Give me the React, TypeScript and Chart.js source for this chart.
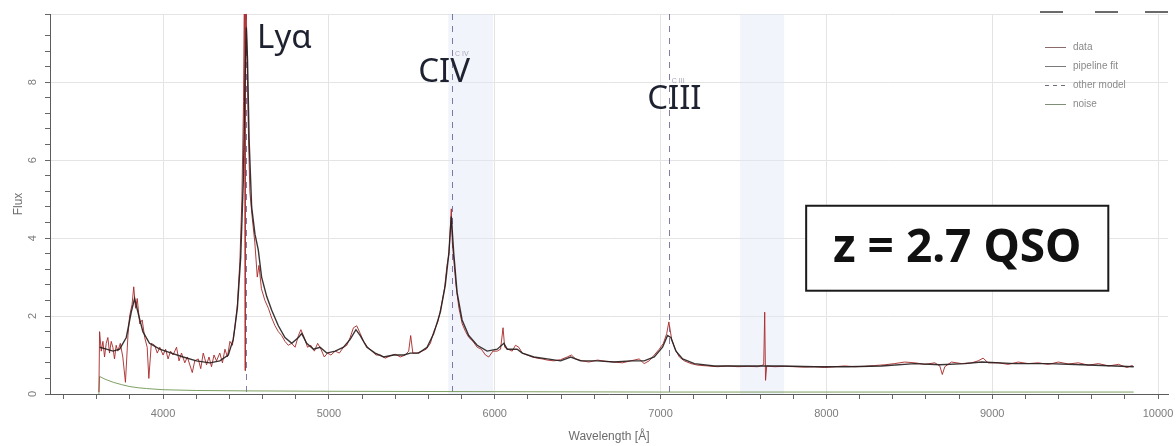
import { useEffect, useRef } from 'react';
import { Chart, registerables } from 'chart.js';

Chart.register(...registerables);

// Observed spectrum (wavelength in Å, flux)
const DATA_WAVELENGTH = [
  3613, 3617, 3627, 3637, 3647, 3657, 3667, 3677, 3687, 3697, 3707, 3717, 3727, 3742, 3757, 3773,
  3788, 3798, 3813, 3823, 3834, 3844, 3859, 3874, 3889, 3904, 3914, 3929, 3949, 3965, 3980, 4000,
  4015, 4030, 4045, 4060, 4081, 4096, 4111, 4131, 4146, 4176, 4191, 4212, 4227, 4242, 4262, 4277,
  4292, 4307, 4322, 4342, 4358, 4373, 4388, 4403, 4418, 4433, 4448, 4463, 4475, 4485, 4491, 4494,
  4497, 4505, 4513, 4523, 4538, 4553, 4568, 4578, 4593, 4614, 4635, 4655, 4675, 4695, 4715, 4735,
  4755, 4775, 4796, 4816, 4831, 4851, 4871, 4891, 4912, 4932, 4952, 4972, 4992, 5012, 5038, 5063,
  5088, 5108, 5128, 5148, 5168, 5189, 5209, 5234, 5259, 5284, 5310, 5340, 5370, 5400, 5430, 5461,
  5481, 5493, 5506, 5531, 5561, 5587, 5612, 5632, 5657, 5677, 5697, 5712, 5724, 5738, 5744, 5754,
  5766, 5784, 5804, 5824, 5844, 5869, 5894, 5919, 5944, 5964, 5989, 6015, 6035, 6050, 6060, 6080,
  6105, 6125, 6145, 6166, 6196, 6226, 6256, 6286, 6317, 6357, 6397, 6437, 6462, 6488, 6528, 6568,
  6619, 6669, 6720, 6770, 6820, 6871, 6901, 6931, 6962, 6992, 7017, 7037, 7050, 7067, 7088, 7113,
  7143, 7183, 7224, 7284, 7344, 7405, 7465, 7525, 7585, 7622, 7628, 7633, 7640, 7688, 7749, 7809,
  7869, 7929, 7990, 8050, 8110, 8171, 8231, 8291, 8352, 8412, 8472, 8533, 8593, 8654, 8684, 8699,
  8714, 8754, 8815, 8875, 8915, 8945, 8975, 9036, 9096, 9157, 9217, 9278, 9338, 9399, 9459, 9520,
  9580, 9641, 9701, 9762, 9812, 9843, 9853,
];
const DATA_FLUX = [
  0.05, 1.6, 1.1, 1.35, 0.95, 1.3, 1.45, 1.05, 1.35, 1.2, 0.9, 1.25, 1.1, 1.3, 0.95, 0.3,
  1.5, 2.0, 2.3, 2.75, 2.2, 2.45, 1.8, 1.9, 1.45, 1.2, 0.4, 1.3, 1.25, 1.05, 1.2, 1.0,
  1.15, 0.9, 1.1, 1.0, 1.2, 0.85, 1.05, 0.8, 0.95, 0.55, 0.85, 0.9, 0.65, 1.05, 0.75, 0.95,
  0.7, 1.0, 0.85, 1.05, 0.8, 1.15, 0.95, 1.35, 1.25, 1.7, 2.3, 3.4, 5.0, 7.5, 11, 0.6,
  11, 9.0, 7.0, 5.2, 4.5, 3.9, 3.0, 3.3, 2.7, 2.4, 2.2, 1.95, 1.75, 1.6, 1.5, 1.35,
  1.25, 1.3, 1.2, 1.5, 1.65, 1.45, 1.2, 1.25, 1.1, 1.3, 1.15, 0.95, 1.05, 1.0, 1.1, 1.05,
  1.2, 1.25, 1.45, 1.7, 1.75, 1.55, 1.35, 1.2, 1.1, 1.0, 1.0, 0.92, 0.98, 1.02, 0.95, 1.0,
  1.1, 1.5, 1.05, 1.05, 1.1, 1.15, 1.3, 1.6, 1.85, 2.25, 2.7, 3.3, 3.6, 4.75, 3.9, 3.4,
  2.8, 2.2, 1.8, 1.6, 1.45, 1.35, 1.2, 1.15, 1.0, 0.95, 1.1, 1.1, 1.15, 1.7, 1.2, 1.15,
  1.1, 1.25, 1.2, 1.05, 1.0, 0.95, 0.92, 0.9, 0.87, 0.85, 0.88, 0.95, 1.0, 0.9, 0.85, 0.82,
  0.87, 0.84, 0.82, 0.8, 0.85, 0.9, 0.78, 0.85, 1.0, 1.15, 1.3, 1.55, 1.85, 1.4, 1.15, 0.95,
  0.85, 0.78, 0.74, 0.72, 0.7, 0.72, 0.7, 0.71, 0.7, 0.75, 2.1, 0.35, 0.72, 0.7, 0.71, 0.7,
  0.69, 0.7, 0.68, 0.7, 0.72, 0.7, 0.71, 0.73, 0.75, 0.78, 0.82, 0.8, 0.76, 0.8, 0.72, 0.5,
  0.7, 0.82, 0.78, 0.8, 0.85, 0.92, 0.8, 0.8, 0.76, 0.82, 0.78, 0.8, 0.76, 0.82, 0.77, 0.8,
  0.74, 0.78, 0.72, 0.76, 0.68, 0.73, 0.7,
];

// Pipeline model fit
const FIT_WAVELENGTH = [
  3618, 3658, 3698, 3738, 3778, 3808, 3828, 3848, 3878, 3918, 3980, 4050, 4121, 4201, 4282, 4342,
  4393, 4423, 4448, 4468, 4484, 4494, 4502, 4509, 4519, 4534, 4554, 4574, 4594, 4625, 4655, 4695,
  4735, 4776, 4816, 4836, 4866, 4907, 4947, 4987, 5038, 5088, 5128, 5163, 5189, 5229, 5279, 5330,
  5390, 5451, 5491, 5541, 5592, 5632, 5672, 5702, 5723, 5738, 5753, 5773, 5803, 5843, 5894, 5954,
  6015, 6055, 6075, 6135, 6166, 6236, 6317, 6397, 6458, 6518, 6619, 6720, 6820, 6901, 6962, 7012,
  7042, 7062, 7093, 7133, 7204, 7324, 7526, 7728, 7929, 8130, 8332, 8533, 8684, 8835, 8936, 9137,
  9339, 9540, 9741, 9853,
];
const FIT_FLUX = [
  1.2, 1.15, 1.1, 1.15, 1.45, 2.1, 2.45, 2.1, 1.6, 1.3, 1.15, 1.05, 0.95, 0.85, 0.8, 0.85,
  1.0, 1.4, 2.2, 3.5, 5.5, 8.0, 9.4, 8.6, 6.5, 4.8, 4.1, 3.7, 3.0, 2.5, 2.15, 1.75,
  1.45, 1.3, 1.45, 1.55, 1.3, 1.15, 1.2, 1.05, 1.1, 1.2, 1.4, 1.65, 1.5, 1.2, 1.05, 0.95,
  1.0, 1.0, 1.05, 1.05, 1.2, 1.55, 2.1, 2.8, 3.6, 4.55, 3.6, 2.6, 1.9, 1.5, 1.25, 1.1,
  1.15, 1.3, 1.15, 1.15, 1.05, 0.95, 0.9, 0.85, 0.95, 0.85, 0.85, 0.82, 0.85, 0.85, 0.95, 1.2,
  1.5, 1.45, 1.1, 0.9, 0.78, 0.72, 0.72, 0.72, 0.7, 0.7, 0.72, 0.78, 0.75, 0.78, 0.82, 0.78,
  0.78, 0.75, 0.72, 0.7,
];

// Noise spectrum
const NOISE_WAVELENGTH = [3613, 3617, 3650, 3700, 3750, 3800, 3850, 3900, 4000, 4200, 4500, 5000, 6000, 7000, 8000, 9000, 9853];
const NOISE_FLUX = [0.0, 0.45, 0.38, 0.3, 0.24, 0.19, 0.16, 0.14, 0.11, 0.09, 0.08, 0.07, 0.06, 0.05, 0.05, 0.05, 0.05];

// Axis ticks carrying labels
const X_MAJOR_TICKS = [4000, 5000, 6000, 7000, 8000, 9000, 10000];
const Y_MAJOR_TICKS = [0, 2, 4, 6, 8];

// Emission lines at z = 2.7 and wavelength windows shaded on the plot
const LINE_NAMES = ['Lyα', 'CIV', 'CIII'];
const LINE_TAGS = ['', 'C IV', 'C III'];
const LINE_CENTERS = [4502, 5742, 7050];
const SHADED_RANGES: [number, number][] = [[5720, 5990], [7480, 7745]];
const REDSHIFT_TEXT = 'z = 2.7 QSO';

// Placement of the annotations in data units
const LINE_LABEL_ANCHORS = [
  { x: 4567, y: 8.89 },
  { x: 5538, y: 8.0 },
  { x: 6919, y: 7.3 },
];
const REDSHIFT_BOX = { x0: 7878, x1: 9700, y0: 2.65, y1: 4.83 };

const GRID = '#e4e4e4';
const AXIS = '#5c5c5c';
const TICK_TEXT = '#7c7c7c';

const pairs = (xs: number[], ys: number[]) => xs.map((x, i) => ({ x, y: ys[i] }));
const isMajor = (list: number[], v: number | undefined) =>
  v !== undefined && list.some((m) => Math.abs(m - v) < 1e-6);

const overlayPlugin = {
  id: 'spectrumOverlay',
  beforeDatasetsDraw(chart: any) {
    const { ctx, chartArea: a, scales } = chart;
    const xs = scales.x;
    ctx.save();
    ctx.fillStyle = 'rgba(226,230,248,0.45)';
    for (const [lo, hi] of SHADED_RANGES) {
      const x0 = xs.getPixelForValue(lo);
      const x1 = xs.getPixelForValue(hi);
      ctx.fillRect(x0, a.top, x1 - x0, a.bottom - a.top);
    }
    ctx.strokeStyle = 'rgba(112,96,150,0.85)';
    ctx.lineWidth = 1;
    ctx.setLineDash([6, 6]);
    for (const w of LINE_CENTERS) {
      const px = Math.round(xs.getPixelForValue(w)) + 0.5;
      ctx.beginPath();
      ctx.moveTo(px, a.top);
      ctx.lineTo(px, a.bottom);
      ctx.stroke();
    }
    ctx.restore();
  },
  afterDatasetsDraw(chart: any) {
    const { ctx, chartArea: a, scales } = chart;
    const xs = scales.x;
    const ys = scales.y;
    ctx.save();

    // small tags beside the line markers
    ctx.font = '7px "Liberation Sans"';
    ctx.fillStyle = '#a8a8b8';
    ctx.textBaseline = 'middle';
    LINE_CENTERS.forEach((w, i) => {
      if (!LINE_TAGS[i]) return;
      const px = xs.getPixelForValue(w);
      const py = LINE_LABEL_ANCHORS[i].y;
      ctx.fillText(LINE_TAGS[i], px + 3, ys.getPixelForValue(py) - 28);
    });

    // emission line names
    ctx.font = '33px "Noto Sans"';
    ctx.fillStyle = '#1e2230';
    ctx.textBaseline = 'alphabetic';
    ctx.textAlign = 'left';
    LINE_NAMES.forEach((name, i) => {
      const p = LINE_LABEL_ANCHORS[i];
      ctx.fillText(name, xs.getPixelForValue(p.x), ys.getPixelForValue(p.y));
    });

    // redshift box
    const bx0 = xs.getPixelForValue(REDSHIFT_BOX.x0);
    const bx1 = xs.getPixelForValue(REDSHIFT_BOX.x1);
    const by0 = ys.getPixelForValue(REDSHIFT_BOX.y1);
    const by1 = ys.getPixelForValue(REDSHIFT_BOX.y0);
    ctx.fillStyle = '#ffffff';
    ctx.fillRect(bx0, by0, bx1 - bx0, by1 - by0);
    ctx.strokeStyle = '#1a1a1a';
    ctx.lineWidth = 2;
    ctx.strokeRect(bx0, by0, bx1 - bx0, by1 - by0);
    ctx.font = 'bold 46px "Noto Sans"';
    ctx.fillStyle = '#111111';
    ctx.textAlign = 'center';
    ctx.textBaseline = 'middle';
    ctx.fillText(REDSHIFT_TEXT, (bx0 + bx1) / 2, (by0 + by1) / 2 + 1);

    // legend inside the plot, upper right
    const lx = a.right - 123;
    let ly = a.top + 33;
    ctx.font = '10px "Liberation Sans"';
    ctx.textAlign = 'left';
    ctx.textBaseline = 'middle';
    for (const ds of chart.data.datasets) {
      ctx.strokeStyle = ds.legendColor || ds.borderColor;
      ctx.lineWidth = 1;
      ctx.setLineDash(ds.borderDash || []);
      ctx.beginPath();
      ctx.moveTo(lx, ly + 0.5);
      ctx.lineTo(lx + 21, ly + 0.5);
      ctx.stroke();
      ctx.setLineDash([]);
      ctx.fillStyle = '#8a8a8a';
      ctx.fillText(ds.label, lx + 28, ly);
      ly += 19;
    }

    // window control marks along the top edge
    ctx.strokeStyle = '#6a6a6a';
    ctx.lineWidth = 2;
    for (const [s, e] of [[-128, -105], [-73, -50], [-23, 0]]) {
      ctx.beginPath();
      ctx.moveTo(a.right + s, a.top - 2);
      ctx.lineTo(a.right + e, a.top - 2);
      ctx.stroke();
    }
    ctx.restore();
  },
};

export default function App() {
  const canvasRef = useRef<HTMLCanvasElement>(null);

  useEffect(() => {
    const canvas = canvasRef.current;
    if (!canvas) return;
    const chart = new Chart(canvas, {
      type: 'line',
      data: {
        datasets: [
          {
            label: 'data',
            data: pairs(DATA_WAVELENGTH, DATA_FLUX),
            borderColor: 'rgba(168,40,40,0.9)',
            legendColor: '#8a6a6a',
            borderWidth: 1,
            pointRadius: 0,
            order: 2,
          } as any,
          {
            label: 'pipeline fit',
            data: pairs(FIT_WAVELENGTH, FIT_FLUX),
            borderColor: 'rgba(38,30,30,0.9)',
            legendColor: '#7a7a7a',
            borderWidth: 1.4,
            pointRadius: 0,
            order: 1,
          } as any,
          {
            label: 'other model',
            data: [],
            borderColor: '#6c6c7c',
            borderDash: [4, 4],
            borderWidth: 1,
            pointRadius: 0,
            order: 4,
          } as any,
          {
            label: 'noise',
            data: pairs(NOISE_WAVELENGTH, NOISE_FLUX),
            borderColor: 'rgba(112,150,82,0.9)',
            legendColor: '#7f8f77',
            borderWidth: 1,
            pointRadius: 0,
            order: 3,
          } as any,
        ],
      },
      options: {
        responsive: false,
        animation: false,
        devicePixelRatio: 1,
        layout: { padding: { top: 14, right: 8, left: 0, bottom: 0 } },
        font: { family: '"Liberation Sans", sans-serif' },
        plugins: { legend: { display: false }, tooltip: { enabled: false } },
        scales: {
          x: {
            type: 'linear',
            min: 3318,
            max: 10060,
            border: { color: AXIS, width: 1 },
            grid: {
              color: (c: any) => (isMajor(X_MAJOR_TICKS, c.tick?.value) ? GRID : 'rgba(0,0,0,0)'),
              tickColor: '#666666',
              tickLength: 5,
            },
            ticks: {
              stepSize: 200,
              autoSkip: false,
              includeBounds: false,
              maxRotation: 0,
              minRotation: 0,
              padding: 8,
              color: TICK_TEXT,
              font: { size: 11, family: '"Liberation Sans"' },
              callback: (v: any) => (isMajor(X_MAJOR_TICKS, Number(v)) ? String(v) : ''),
            },
            title: {
              display: true,
              text: 'Wavelength [Å]',
              color: '#6c6c6c',
              font: { size: 12, family: '"Liberation Sans"' },
              padding: { top: 0, bottom: 2 },
            },
            afterFit: (s: any) => {
              s.height = 52;
              s.paddingLeft = 0;
              s.paddingRight = 0;
            },
          },
          y: {
            type: 'linear',
            min: 0,
            max: 9.75,
            border: { color: AXIS, width: 1 },
            grid: {
              color: (c: any) => {
                const v = c.tick?.value;
                return isMajor(Y_MAJOR_TICKS, v) || v === 9.75 ? GRID : 'rgba(0,0,0,0)';
              },
              tickColor: '#666666',
              tickLength: 5,
            },
            ticks: {
              stepSize: 0.4,
              autoSkip: false,
              minRotation: 90,
              maxRotation: 90,
              crossAlign: 'center',
              padding: 9,
              color: TICK_TEXT,
              font: { size: 11, family: '"Liberation Sans"' },
              callback: (v: any) => (isMajor(Y_MAJOR_TICKS, Number(v)) ? String(v) : ''),
            },
            title: {
              display: true,
              text: 'Flux',
              color: '#6c6c6c',
              font: { size: 12, family: '"Liberation Sans"' },
              padding: { top: 11, bottom: 0 },
            },
            afterFit: (s: any) => {
              s.width = 50;
              s.paddingTop = 0;
              s.paddingBottom = 0;
            },
          },
        },
      } as any,
      plugins: [overlayPlugin],
    });
    return () => chart.destroy();
  }, []);

  return (
    <div style={{ position: 'fixed', left: 0, top: 0, width: 1176, height: 446, background: '#ffffff' }}>
      <canvas ref={canvasRef} width={1176} height={446} style={{ display: 'block' }} />
    </div>
  );
}
